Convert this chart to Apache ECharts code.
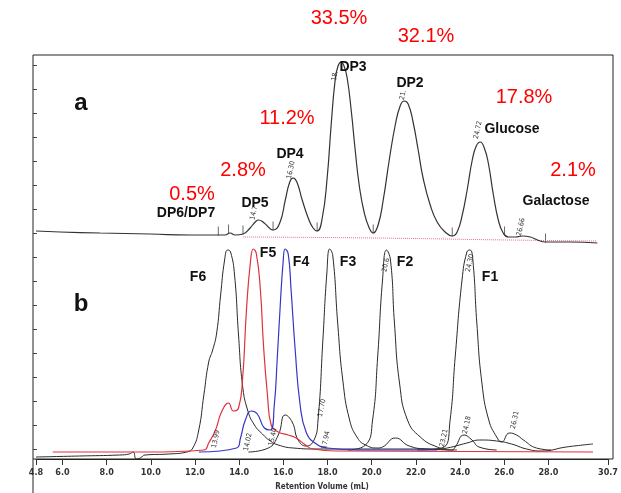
<!DOCTYPE html>
<html>
<head>
<meta charset="utf-8">
<script src="https://cdn.jsdelivr.net/npm/echarts@6.0.0/dist/echarts.min.js"></script>
<style>
html, body { margin: 0; padding: 0; background: #fff; }
#main { width: 621px; height: 493px; }
</style>
</head>
<body>
<div id="main"></div>
<script>
var chart = echarts.init(document.getElementById('main'));

// x ticks (mL)
var xTicks = [4.8, 6, 8, 10, 12, 14, 16, 18, 20, 22, 24, 26, 28, 30.7];

// panel a: crude hydrolysate, [retention mL, signal]
var traceA = [
    [4.80, 14], [5.88, 13], [7.68, 12], [9.92, 11], [11.72, 10], [12.93, 10], [13.29, 10],
    [13.52, 12], [13.74, 10], [14.10, 11], [14.42, 17], [14.65, 23], [14.80, 25], [15.05, 22],
    [15.45, 15], [15.75, 22], [16.00, 45], [16.20, 63], [16.35, 67], [16.52, 63], [16.76, 45],
    [17.03, 27], [17.25, 17], [17.43, 14], [17.66, 27], [17.88, 67], [18.06, 120], [18.24, 165],
    [18.37, 179], [18.51, 183], [18.64, 179], [18.78, 167], [18.96, 135], [19.14, 95], [19.32, 60],
    [19.54, 33], [19.77, 17], [19.95, 12], [20.17, 20], [20.40, 45], [20.67, 85], [20.94, 120],
    [21.16, 139], [21.34, 144], [21.52, 141], [21.74, 123], [21.97, 95], [22.19, 67], [22.51, 40],
    [22.82, 23], [23.18, 13], [23.50, 9], [23.72, 13], [23.95, 30], [24.17, 55], [24.40, 85],
    [24.58, 99], [24.76, 103], [24.94, 97], [25.12, 82], [25.35, 50], [25.57, 25], [25.79, 12],
    [26.02, 8], [26.34, 8], [26.65, 9], [27.01, 8], [27.33, 5], [27.69, 3], [28.81, 3], [30.02, 2]
];
var baseA = [[14.1, 8], [20, 7], [26, 5], [30.0, 4]];
// integration marks at the valleys of panel a
var valleysA = [[12.99, 10], [13.45, 12], [14.10, 11], [15.45, 15], [17.43, 14], [19.95, 12], [23.50, 9], [25.85, 10], [27.69, 3]];

// panel b: fractions F1-F6
var f6 = [
    [4.80, 2], [6.78, 3], [8.58, 4], [9.02, 5], [9.20, 7], [9.34, 0], [9.52, 1], [9.74, 4],
    [10.82, 5], [11.63, 7], [11.90, 11], [12.17, 29], [12.40, 64], [12.62, 97], [12.80, 109],
    [12.98, 126], [13.16, 164], [13.34, 199], [13.48, 209], [13.61, 207], [13.79, 184],
    [13.97, 124], [14.15, 74], [14.38, 49], [14.69, 34], [15.05, 25], [15.41, 18], [15.77, 14],
    [16.44, 11], [17.57, 10], [19.37, 10], [22.96, 10], [23.42, 11], [24.31, 16], [24.90, 19],
    [25.66, 18], [26.33, 15], [27.01, 10], [27.69, 8], [28.81, 12], [30.02, 15]
];
var f5 = [
    [5.56, 7], [9.93, 7], [12.40, 9], [12.62, 16], [12.93, 29], [13.20, 47], [13.52, 56],
    [13.74, 48], [13.97, 51], [14.15, 79], [14.33, 149], [14.51, 197], [14.64, 210], [14.78, 205],
    [14.96, 169], [15.10, 114], [15.28, 64], [15.45, 34], [15.77, 27], [16.22, 24], [16.58, 21],
    [16.94, 15], [17.34, 10], [18.47, 8], [30.02, 7]
];
var f4 = [
    [12.17, 7], [13.88, 11], [14.06, 21], [14.28, 39], [14.55, 48], [14.82, 45], [15.14, 31],
    [15.41, 29], [15.59, 54], [15.72, 99], [15.86, 154], [15.99, 197], [16.08, 210], [16.22, 205],
    [16.35, 169], [16.53, 111], [16.76, 54], [17.03, 27], [17.43, 16], [18.01, 11], [19.37, 9],
    [22.96, 9]
];
var f3 = [
    [14.42, 7], [15.32, 11], [15.77, 24], [16.08, 44], [16.40, 37], [16.67, 19], [17.03, 13],
    [17.39, 19], [17.57, 39], [17.79, 119], [17.97, 186], [18.10, 210], [18.24, 203], [18.46, 136],
    [18.69, 79], [19.00, 39], [19.36, 21], [19.72, 14], [20.26, 11], [20.49, 12], [21.07, 21],
    [21.70, 13], [22.51, 10], [23.86, 9]
];
var f2 = [
    [18.92, 9], [19.72, 14], [20.04, 39], [20.27, 102], [20.49, 179], [20.67, 209], [20.85, 199],
    [21.03, 136], [21.26, 76], [21.62, 39], [22.20, 22], [22.97, 12], [23.64, 9], [23.78, 12],
    [24.18, 24], [24.54, 19], [24.86, 12], [25.66, 9]
];
var f1 = [
    [22.07, 9], [23.28, 12], [23.55, 39], [23.78, 102], [24.09, 179], [24.31, 207], [24.45, 209],
    [24.58, 199], [24.76, 136], [24.99, 76], [25.30, 39], [25.66, 22], [25.88, 17], [26.24, 26],
    [26.56, 24], [26.87, 19], [27.46, 11], [28.13, 9]
];

var percentLabels = ['0.5%', '2.8%', '11.2%', '33.5%', '32.1%', '17.8%', '2.1%'];
var peakNames = ['DP6/DP7', 'DP5', 'DP4', 'DP3', 'DP2', 'Glucose', 'Galactose'];
var fractionNames = ['F6', 'F5', 'F4', 'F3', 'F2', 'F1'];
var peakTimesA = ['14.7', '16.30', '18.', '21.', '24.72', '26.66'];
var peakTimesB = ['13.99', '14.02', '15.40', '17.70', '17.94', '20.6', '24.30', '23.21', '24.18', '26.31'];

// where the texts sit (pixels)
var percentPos = [[192, 194], [243, 170], [287, 118], [339, 18], [426, 36], [524, 97], [573, 170]];
var peakPos = [[186, 213], [255, 203], [290, 154], [353, 67], [410, 83], [512, 129], [556, 201]];
var fractionPos = [[198, 277], [268, 253], [301, 262], [348, 262], [405, 262], [490, 277]];
var timePosA = [[254, 213], [291, 170], [335, 76], [403, 95], [478, 130], [521, 227]];
var timePosB = [[216, 439], [248, 442], [273, 437], [322, 408], [326, 440], [386, 265], [470, 263], [444, 438], [467, 425], [515, 420]];

function txt(x, y, s, font, fill, rot) {
    return {
        type: 'text', x: x, y: y, rotation: rot || 0, z: 100,
        style: {
            text: s, font: font, fill: fill,
            align: 'center', verticalAlign: 'middle',
            textAlign: 'center', textVerticalAlign: 'middle'
        }
    };
}

var graphics = [
    { type: 'line', shape: { x1: 33, y1: 459, x2: 33, y2: 493 }, style: { stroke: '#222', lineWidth: 1 } },
    txt(81, 103, 'a', 'bold 24px "Liberation Sans", Arial', '#111'),
    txt(81, 304, 'b', 'bold 24px "Liberation Sans", Arial', '#111')
];
percentLabels.forEach(function (s, i) {
    graphics.push(txt(percentPos[i][0], percentPos[i][1], s, '20px "Liberation Sans", Arial', '#ff0000'));
});
peakNames.forEach(function (s, i) {
    graphics.push(txt(peakPos[i][0], peakPos[i][1], s, 'bold 14px "Liberation Sans", Arial', '#111'));
});
fractionNames.forEach(function (s, i) {
    graphics.push(txt(fractionPos[i][0], fractionPos[i][1], s, 'bold 14px "Liberation Sans", Arial', '#111'));
});
peakTimesA.forEach(function (s, i) {
    graphics.push(txt(timePosA[i][0], timePosA[i][1], s, '7px "DejaVu Sans Condensed"', '#333', 1.35));
});
peakTimesB.forEach(function (s, i) {
    graphics.push(txt(timePosB[i][0], timePosB[i][1], s, '7px "DejaVu Sans Condensed"', '#333', 1.35));
});

function trace(data, color, width, xi, type) {
    return {
        type: 'line', xAxisIndex: xi, yAxisIndex: xi, data: data,
        smooth: 0.5, showSymbol: false, silent: true,
        lineStyle: { color: color, width: width, type: type || 'solid' }
    };
}

var hiddenX = { type: 'value', min: 4.8, max: 30.7, show: false };

option = {
    animation: false,
    backgroundColor: '#fff',
    grid: [
        { left: 36, right: 8.5, top: 55, height: 190 },
        { left: 36, right: 8.5, top: 245, bottom: 34 },
        { left: 33, right: 8, top: 55, bottom: 34, show: true, borderColor: '#222', borderWidth: 1 },
        { left: 33, right: 8, top: 65, bottom: 44 }
    ],
    xAxis: [
        Object.assign({ gridIndex: 0 }, hiddenX),
        {
            gridIndex: 1, type: 'value', min: 4.8, max: 30.7,
            name: 'Retention Volume (mL)', nameLocation: 'middle', nameGap: 24,
            nameTextStyle: { fontSize: 8, fontWeight: 'bold', color: '#333', fontFamily: 'DejaVu Sans Condensed' },
            axisLine: { show: true, lineStyle: { color: '#222' } },
            axisTick: { show: true, length: 6, customValues: xTicks, lineStyle: { color: '#333' } },
            axisLabel: {
                customValues: xTicks, margin: 9, fontSize: 9, fontWeight: 'bold',
                fontFamily: 'DejaVu Sans Condensed', color: '#333',
                formatter: function (v) { return v.toFixed(1); }
            },
            splitLine: { show: false }
        },
        Object.assign({ gridIndex: 2 }, hiddenX),
        Object.assign({ gridIndex: 3 }, hiddenX)
    ],
    yAxis: [
        { gridIndex: 0, type: 'value', min: 0, max: 190, show: false },
        { gridIndex: 1, type: 'value', min: 0, max: 214, show: false },
        { gridIndex: 2, type: 'value', min: 0, max: 1, show: false },
        {
            gridIndex: 3, type: 'value', min: 0, max: 16, interval: 1,
            axisLine: { show: false },
            axisTick: { show: true, inside: true, length: 4, lineStyle: { color: '#444' } },
            axisLabel: { show: false },
            splitLine: { show: false }
        }
    ],
    graphic: graphics,
    series: [
        trace(baseA, '#e0708c', 1, 0, 'dotted'),
        trace(traceA, '#333', 1.2, 0),
        {
            type: 'scatter', xAxisIndex: 0, yAxisIndex: 0, data: valleysA, silent: true,
            symbol: 'rect', symbolSize: [1, 9], symbolOffset: [0, -4],
            itemStyle: { color: '#444' }
        },
        trace(f6, '#2a2a2a', 1, 1),
        trace(f3, '#2a2a2a', 1, 1),
        trace(f2, '#2a2a2a', 1, 1),
        trace(f1, '#2a2a2a', 1, 1),
        trace(f5, '#e0303c', 1.2, 1),
        trace(f4, '#3535c8', 1.2, 1)
    ]
};

chart.setOption(option);
</script>
</body>
</html>
